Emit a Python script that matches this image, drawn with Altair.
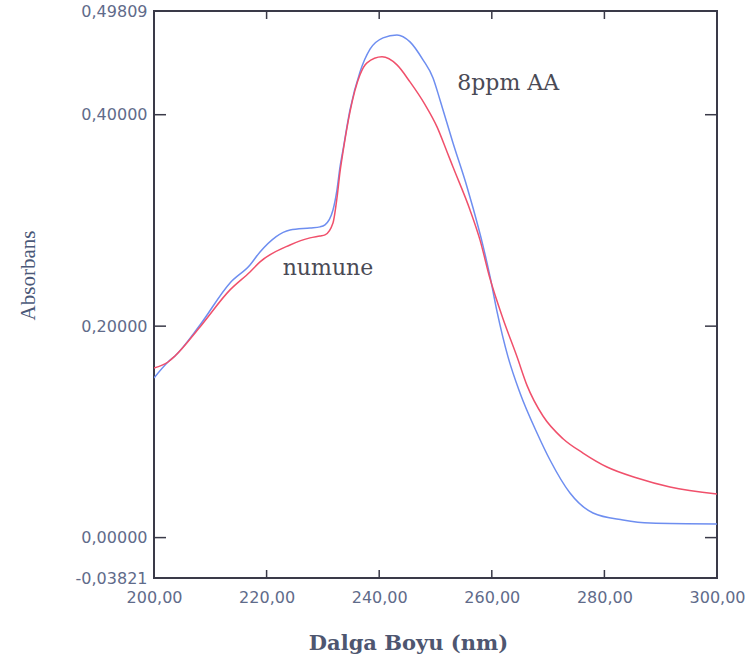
import altair as alt
import pandas as pd

# Wavelength (nm) and absorbance
blue_wl = [200.00, 202.49, 203.73, 208.17, 213.50, 217.05, 218.83, 224.16, 227.71, 229.49,
           230.37, 231.79, 232.50, 233.04, 233.57, 234.81, 236.59, 238.37, 240.68, 243.16,
           245.47, 247.78, 249.56, 250.80, 253.11, 255.60, 256.66, 258.44, 259.68, 260.92,
           262.88, 265.01, 268.03, 270.34, 273.89, 277.98, 283.30, 288.10, 300.00]
blue_abs = [0.1510, 0.1661, 0.1718, 0.2011, 0.2409, 0.2579, 0.2702, 0.2910, 0.2929, 0.2939,
            0.2958, 0.3099, 0.3289, 0.3506, 0.3667, 0.4046, 0.4405, 0.4620, 0.4727, 0.4755,
            0.4689, 0.4519, 0.4348, 0.4140, 0.3733, 0.3317, 0.3120, 0.2760, 0.2470, 0.2140,
            0.1709, 0.1368, 0.0990, 0.0734, 0.0422, 0.0233, 0.0167, 0.0138, 0.0129]

red_wl = [200.00, 202.49, 203.73, 208.17, 213.50, 217.05, 218.83, 224.16, 227.71, 229.49,
          230.37, 231.79, 232.50, 233.04, 233.57, 234.81, 236.59, 237.83, 240.50, 243.16,
          245.47, 248.14, 250.27, 252.04, 253.11, 256.13, 257.90, 259.68, 261.99, 264.48,
          266.25, 269.09, 272.65, 276.20, 280.46, 285.79, 291.65, 300.00]
red_abs = [0.1605, 0.1661, 0.1718, 0.1993, 0.2343, 0.2513, 0.2608, 0.2768, 0.2835, 0.2853,
           0.2863, 0.2976, 0.3213, 0.3459, 0.3648, 0.4027, 0.4377, 0.4490, 0.4547, 0.4471,
           0.4310, 0.4095, 0.3885, 0.3650, 0.3505, 0.3099, 0.2816, 0.2450, 0.2070, 0.1710,
           0.1440, 0.1150, 0.0935, 0.0800, 0.0668, 0.0564, 0.0479, 0.0413]

series_names = ["8ppm AA", "numune"]
series_colors = ["#6e8ef0", "#f0506b"]

x_tick_labels = [200, 220, 240, 260, 280, 300]
y_tick_labels = [-0.03821, 0.0, 0.2, 0.4, 0.49809]
x_inner_ticks = [220, 240, 260, 280]
y_inner_ticks = [0.0, 0.2, 0.4]

note_text = ["8ppm AA", "numune"]
note_x = [262.9, 230.9]
note_y = [0.430, 0.2551]

X_DOMAIN = [200, 300]
Y_DOMAIN = [-0.03821, 0.49809]

df = pd.concat([
    pd.DataFrame({"wl": blue_wl, "abs": blue_abs, "series": series_names[0]}),
    pd.DataFrame({"wl": red_wl, "abs": red_abs, "series": series_names[1]}),
])

W, H = 563, 567
xs = alt.Scale(domain=X_DOMAIN, nice=False, zero=False)
ys = alt.Scale(domain=Y_DOMAIN, nice=False, zero=False)

x_axis = alt.Axis(
    values=x_tick_labels, ticks=False, domain=False, grid=False,
    labelExpr="replace(format(datum.value, '.2f'), '.', ',')",
    labelFlush=False, labelOverlap=False, labelPadding=11,
    title="Dalga Boyu (nm)", titleX=254, titleY=65, titleBaseline="middle",
    titleAnchor="start", titleAlign="center",
    titleFont="DejaVu Serif", titleFontSize=21, titleFontWeight="bold",
    titleColor="#4e5670",
)
y_axis = alt.Axis(
    values=y_tick_labels, ticks=False, domain=False, grid=False,
    labelExpr="replace(replace(format(datum.value, '.5f'), '.', ','), '\u2212', '-')",
    labelFlush=False, labelOverlap=False, labelPadding=7,
    title="Absorbans", titleX=-126, titleY=264, titleAngle=-90,
    titleBaseline="middle", titleAlign="center",
    titleFont="Liberation Serif", titleFontSize=21, titleFontWeight="normal",
    titleColor="#4a5878",
)

lines = alt.Chart(df).mark_line(strokeWidth=1.5, interpolate="monotone", clip=True).encode(
    x=alt.X("wl:Q", scale=xs, axis=x_axis),
    y=alt.Y("abs:Q", scale=ys, axis=y_axis),
    color=alt.Color("series:N", scale=alt.Scale(domain=series_names, range=series_colors), legend=None),
    detail="series:N",
)

ydf = pd.DataFrame({"v": y_inner_ticks})
xdf = pd.DataFrame({"v": x_inner_ticks})
tick_color = "#3a3a48"

left_ticks = alt.Chart(ydf).mark_rule(color=tick_color, strokeWidth=1.5).encode(
    y=alt.Y("v:Q", scale=ys), x=alt.value(0), x2=alt.value(12))
right_ticks = alt.Chart(ydf).mark_rule(color=tick_color, strokeWidth=1.5).encode(
    y=alt.Y("v:Q", scale=ys), x=alt.value(W - 12), x2=alt.value(W))
bottom_ticks = alt.Chart(xdf).mark_rule(color=tick_color, strokeWidth=1.5).encode(
    x=alt.X("v:Q", scale=xs), y=alt.value(H - 8), y2=alt.value(H))
top_ticks = alt.Chart(xdf).mark_rule(color=tick_color, strokeWidth=1.5).encode(
    x=alt.X("v:Q", scale=xs), y=alt.value(0), y2=alt.value(8))

notes = alt.Chart(pd.DataFrame({"t": note_text, "x": note_x, "y": note_y})).mark_text(
    font="DejaVu Serif", fontSize=22, color="#4a4a55", align="center", baseline="middle"
).encode(x=alt.X("x:Q", scale=xs), y=alt.Y("y:Q", scale=ys), text="t:N")

chart = alt.layer(lines, left_ticks, right_ticks, bottom_ticks, top_ticks, notes).properties(
    width=W, height=H,
    autosize=alt.AutoSizeParams(type="none"),
    padding={"left": 154, "top": 11, "right": 31, "bottom": 83},
    background="white",
).configure_view(
    stroke="#3a3a48", strokeWidth=2
).configure_axis(
    labelFont="DejaVu Sans", labelFontSize=16, labelColor="#5f6b8a",
)

chart.save("out.html", embed_options={"renderer": "svg", "actions": False})
